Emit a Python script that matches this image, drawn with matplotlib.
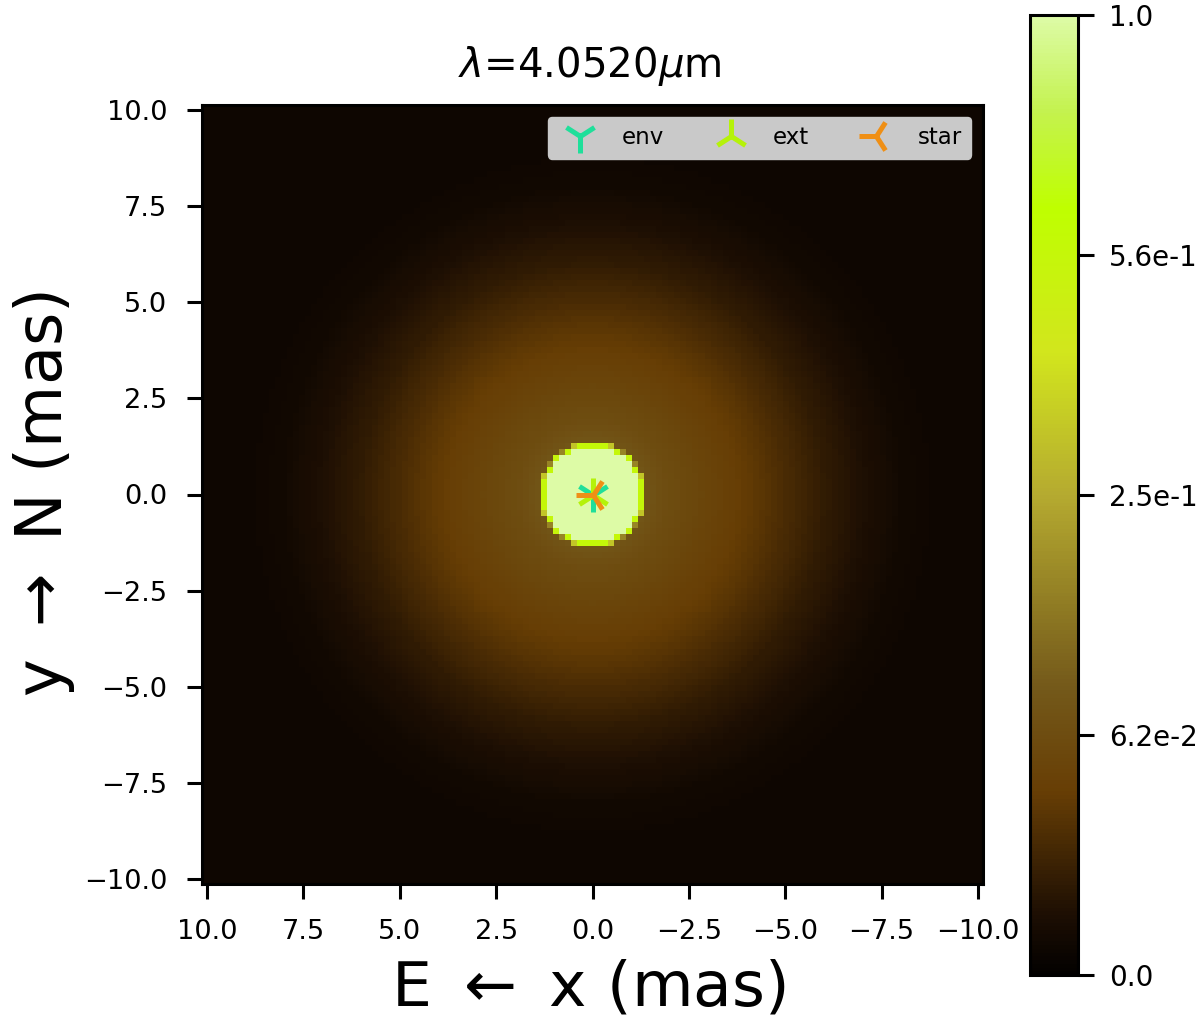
import numpy as np
import matplotlib
matplotlib.use("Agg")
from matplotlib import pyplot as plt
from matplotlib.colors import LinearSegmentedColormap, PowerNorm

# radial brightness profile (mas, normalised flux)
radius = [0.0, 1.24, 1.25, 1.335, 1.345, 1.36, 1.42, 2.0, 3.0, 4.0, 5.0, 6.0, 7.0, 8.0, 9.0, 10.0, 15.0]
flux = [1.0, 1.0, 0.58, 0.55, 0.22, 0.09, 0.08, 0.062, 0.047, 0.034, 0.02, 0.0095, 0.0042, 0.0015, 0.0008, 0.0008, 0.0008]

cbar_ticks = [0.0, 0.0625, 0.25, 0.5625, 1.0]
cbar_labels = ["0.0", "6.2e-2", "2.5e-1", "5.6e-1", "1.0"]
axis_ticks = [10.0, 7.5, 5.0, 2.5, 0.0, -2.5, -5.0, -7.5, -10.0]

cmap_pos = [0.0, 0.06, 0.19, 0.30, 0.50, 0.65, 0.80, 0.90, 1.0]
cmap_col = ["#030100", "#1c0e03", "#673e05", "#74591a", "#b5aa30", "#d2e61d", "#bfff00", "#c4f24e", "#ddfba6"]

comp_names = ["env", "ext", "star"]
comp_x = [0.0, 0.0, 0.0]
comp_y = [0.0, 0.0, 0.0]
comp_markers = ["1", "2", "3"]
comp_colors = ["#1fdf9a", "#b5f20a", "#ef8f15"]

npix = 129
half = 10.13

cmap = LinearSegmentedColormap.from_list("rtcmap", list(zip(cmap_pos, cmap_col)))

edges = np.linspace(-half, half, npix + 1)
centers = 0.5 * (edges[1:] + edges[:-1])
xx, yy = np.meshgrid(centers, centers)
image = np.interp(np.hypot(xx, yy), radius, flux)

fig = plt.figure(figsize=(12, 10.19), dpi=100)
ax = fig.add_axes([202 / 1200, 1 - 884 / 1019, 781 / 1200, 779 / 1019])
im = ax.imshow(image, origin="lower", cmap=cmap, norm=PowerNorm(gamma=0.5, vmin=0, vmax=1),
               extent=[half, -half, -half, half], interpolation="nearest", aspect="auto")

# Components
for i in range(len(comp_names)):
    ax.plot(comp_x[i], comp_y[i], linestyle="none", marker=comp_markers[i], color=comp_colors[i],
            markersize=25, markeredgewidth=3.6, label=comp_names[i])

ax.set_xticks(axis_ticks)
ax.set_yticks(axis_ticks)
ax.tick_params(labelsize=19.6, width=2.2, length=11, pad=14)
ax.set_title(r"$\lambda$=4.0520$\mu$m", fontsize=29, pad=20, x=0.497)
ax.set_xlabel("E $\\leftarrow$ x (mas)", fontsize=45.5, labelpad=10, x=0.494)
ax.set_ylabel("y $\\rightarrow$ N (mas)", fontsize=46, labelpad=5)
for spine in ax.spines.values():
    spine.set_linewidth(2.2)

ax.legend(ncol=3, loc="upper right", bbox_to_anchor=(0.985, 0.985), fontsize=16.5, borderaxespad=0,
          handletextpad=0.8, columnspacing=1.95, borderpad=0.42, facecolor="#c9c9c9", framealpha=1,
          edgecolor="#c9c9c9")

cax = fig.add_axes([1030 / 1200, 1 - 975 / 1019, 48 / 1200, 960 / 1019])
cbar = fig.colorbar(im, cax=cax)
cbar.set_ticks(cbar_ticks)
cbar.set_ticklabels(cbar_labels)
cbar.ax.minorticks_off()
cbar.ax.tick_params(labelsize=20, width=2.2, length=11.5, pad=11)
cbar.outline.set_linewidth(2.2)

fig.savefig("out.png", dpi=100)
